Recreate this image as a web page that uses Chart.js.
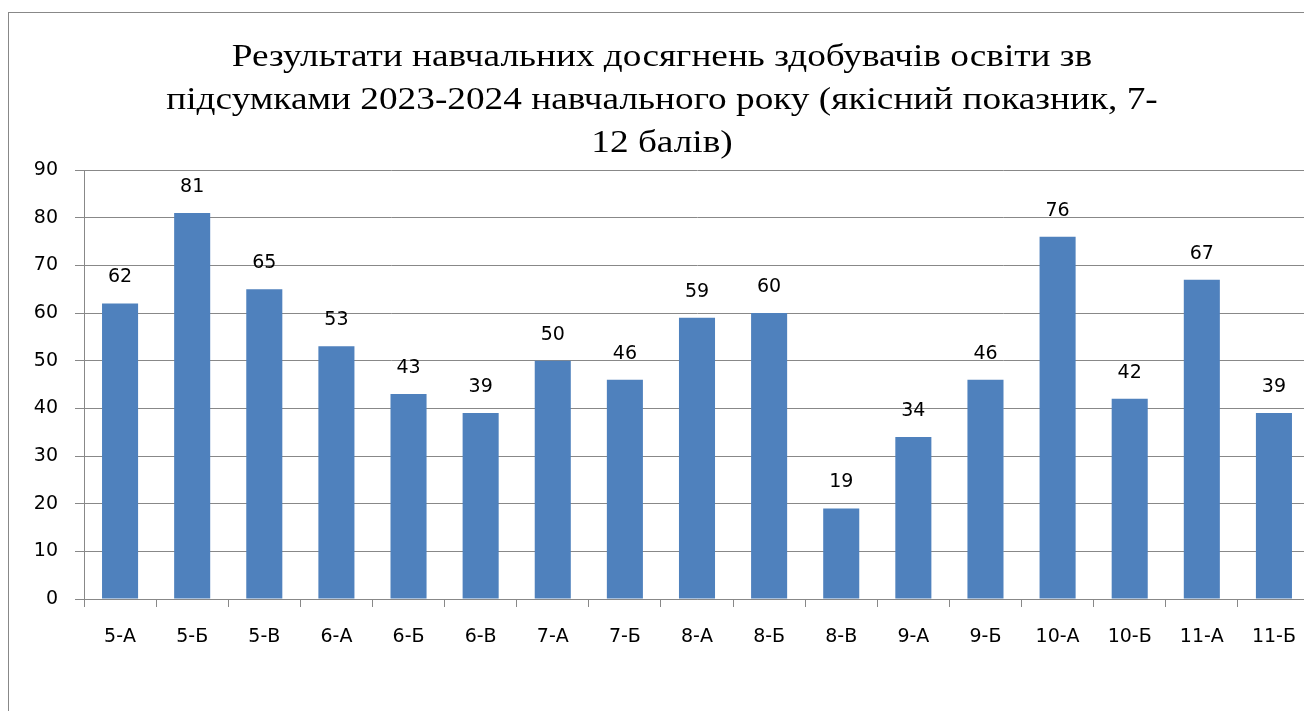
<!DOCTYPE html>
<html>
<head>
<meta charset="utf-8">
<script src="https://cdn.jsdelivr.net/npm/chart.js@4.4.0/dist/chart.umd.min.js"></script>
<style>
    body { margin: 0; overflow: hidden; background: #fff; }
    #frame { position: absolute; left: 8px; top: 12px; width: 1400px; height: 800px; border: 1px solid #888; }
    #wrap { position: absolute; left: 0; top: 0; width: 1324px; height: 711px; }
</style>
</head>
<body>
<div id="frame"></div>
<div id="wrap"><canvas id="resultsChart"></canvas></div>
<script>
// Chart data
const classNames = ['5-А', '5-Б', '5-В', '6-А', '6-Б', '6-В', '7-А', '7-Б', '8-А', '8-Б', '8-В', '9-А', '9-Б', '10-А', '10-Б', '11-А', '11-Б'];
const qualityValues = [62, 81, 65, 53, 43, 39, 50, 46, 59, 60, 19, 34, 46, 76, 42, 67, 39];
const titleLines = [
    'Результати навчальних досягнень здобувачів освіти зв',
    'підсумками 2023-2024 навчального року (якісний показник, 7-',
    '12 балів)'
];

const axisFont = { family: 'DejaVu Sans', size: 19 };
const gridColor = '#888888';

// Title drawn in a slightly wide serif, like the original picture
const wideTitle = {
    id: 'wideTitle',
    afterDraw(chart) {
        const ctx = chart.ctx;
        const rows = [58, 101, 144];
        ctx.save();
        ctx.font = '32px "Liberation Serif"';
        ctx.fillStyle = '#000';
        ctx.textAlign = 'center';
        ctx.textBaseline = 'middle';
        titleLines.forEach((line, i) => {
            ctx.save();
            ctx.translate(662, rows[i]);
            ctx.scale(1.165, 1);
            ctx.fillText(line, 0, 0);
            ctx.restore();
        });
        ctx.restore();
    }
};

// Draws value above each bar
const valueLabels = {
    id: 'valueLabels',
    afterDatasetsDraw(chart) {
        const ctx = chart.ctx;
        const meta = chart.getDatasetMeta(0);
        ctx.save();
        ctx.font = '19px "DejaVu Sans"';
        ctx.fillStyle = '#000';
        ctx.textAlign = 'center';
        ctx.textBaseline = 'middle';
        meta.data.forEach((bar, i) => {
            ctx.fillText(String(qualityValues[i]), bar.x, bar.y - 26);
        });
        ctx.restore();
    }
};

const ctx = document.getElementById('resultsChart').getContext('2d');
new Chart(ctx, {
    type: 'bar',
    data: {
        labels: classNames,
        datasets: [{
            data: qualityValues,
            backgroundColor: '#4F81BD',
            borderWidth: 0,
            barPercentage: 0.5,
            categoryPercentage: 1.0
        }]
    },
    options: {
        responsive: true,
        maintainAspectRatio: false,
        animation: false,
        layout: { padding: { left: 0, right: 14, top: 170, bottom: 0 } },
        plugins: {
            legend: { display: false },
            tooltip: { enabled: false },
            title: { display: false }
        },
        scales: {
            x: {
                afterFit(scale) { scale.height = 112; },
                grid: { drawOnChartArea: false, drawTicks: true, tickLength: 8, color: gridColor, offset: true },
                border: { display: true, color: gridColor },
                ticks: { color: '#000', font: axisFont, padding: 19, maxRotation: 0, autoSkip: false }
            },
            y: {
                min: 0,
                max: 90,
                afterFit(scale) { scale.width = 84; },
                grid: { color: gridColor, tickLength: 9, drawTicks: true },
                border: { display: true, color: gridColor },
                ticks: { stepSize: 10, color: '#000', font: axisFont, padding: 17 }
            }
        }
    },
    plugins: [valueLabels, wideTitle]
});
</script>
</body>
</html>
